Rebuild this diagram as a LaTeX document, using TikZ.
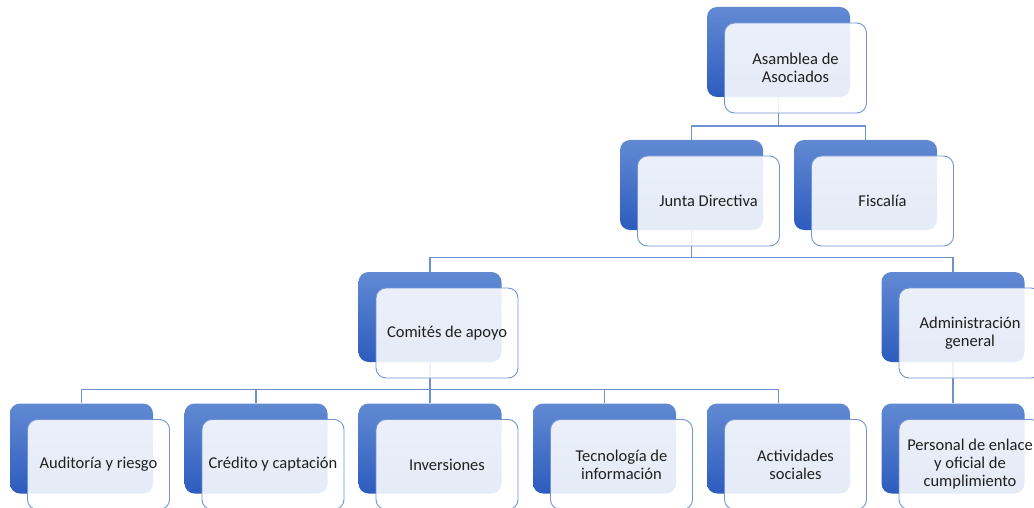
\documentclass[tikz,border=0pt]{standalone}
\usepackage{fontspec}
\setmainfont{Carlito}
\usetikzlibrary{backgrounds}
\definecolor{backtop}{HTML}{628AD3}
\definecolor{backbot}{HTML}{2C5CBE}
\definecolor{frontline}{HTML}{7294D3}
\definecolor{connline}{HTML}{7090CF}
\definecolor{txt}{HTML}{202020}
\newcommand\orgfont{\fontsize{16.5}{18}\selectfont}
\newcommand\orgunit[4]{%
  \node[backbox] (#1b) at (#2,#3+45) {};
  \node[frontbox] (#1f) at (#2+17,#3+61) {#4};
}
\begin{document}
\begin{tikzpicture}[x=1pt,y=-1pt,
  backbox/.style={rectangle,rounded corners=10pt,minimum width=143pt,minimum height=90pt,inner sep=0pt,top color=backtop,bottom color=backbot,draw=none},
  frontbox/.style={rectangle,rounded corners=10pt,minimum width=142pt,minimum height=90pt,inner sep=0pt,fill=white,fill opacity=0.88,text opacity=1,draw=frontline,line width=0.9pt,align=center,font=\orgfont,text=txt},
  conn/.style={draw=connline,line width=1.2pt}]
\useasboundingbox (0,0) rectangle (1034,508);
\clip (0,0) rectangle (1034,508);
\orgunit{as}{778.5}{7}{Asamblea de\\Asociados}
\orgunit{jd}{691.5}{140}{Junta Directiva}
\orgunit{fi}{865.5}{140}{Fiscalía}
\orgunit{co}{430}{272}{Comités de apoyo}
\orgunit{ad}{953}{272}{Administración\\general}
\orgunit{au}{81.5}{403.5}{Auditoría y riesgo}
\orgunit{cr}{256}{403.5}{Crédito y captación}
\orgunit{in}{430}{403.5}{Inversiones}
\orgunit{te}{604.5}{403.5}{Tecnología de\\información}
\orgunit{ac}{778.5}{403.5}{Actividades\\sociales}
\orgunit{pe}{953}{403.5}{Personal de enlace\\y oficial de\\cumplimiento}
\coordinate (busa) at (0,126);
\coordinate (busb) at (0,257.5);
\coordinate (busc) at (0,389.5);
\begin{scope}[on background layer]
  \draw[conn] (asb.south) -- (asb.south |- busa) -| (jdb.north);
  \draw[conn] (asb.south |- busa) -| (fib.north);
  \draw[conn] (jdb.south) -- (jdb.south |- busb) -| (cob.north);
  \draw[conn] (jdb.south |- busb) -| (adb.north);
  \draw[conn] (cob.south) -- (inb.north);
  \draw[conn] (aub.north) |- (cob.south |- busc) -| (acb.north);
  \draw[conn] (cob.south |- busc) -| (crb.north);
  \draw[conn] (cob.south |- busc) -| (teb.north);
  \draw[conn] (adb.south) -- (peb.north);
\end{scope}
\end{tikzpicture}
\end{document}
